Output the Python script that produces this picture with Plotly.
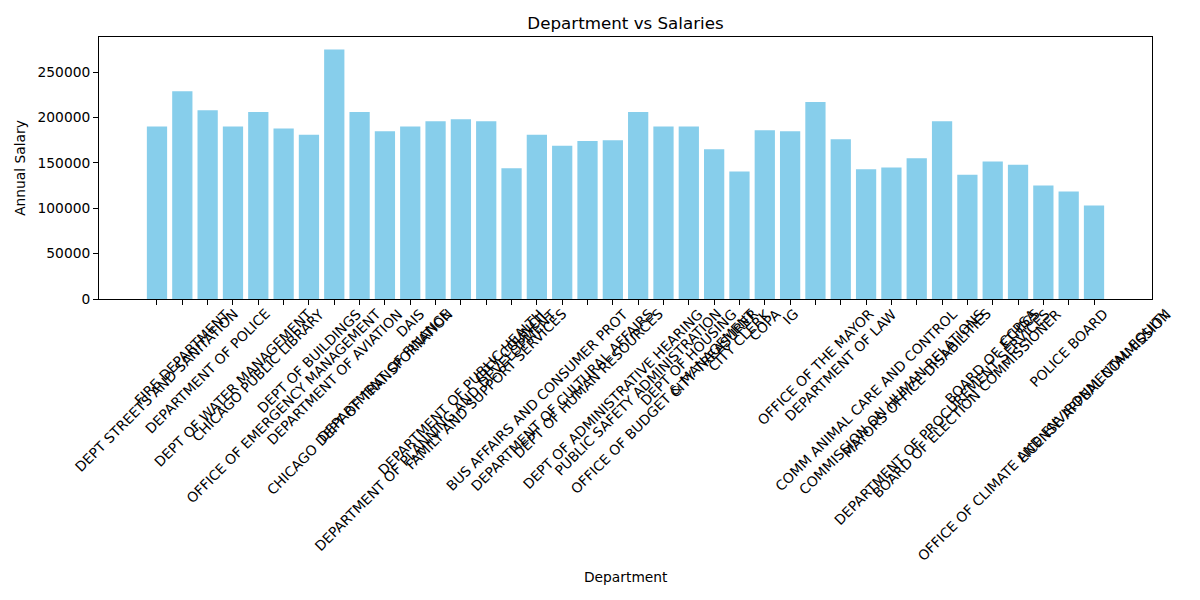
import plotly.graph_objects as go

FONT = "DejaVu Sans"
BAR_COLOR = "skyblue"

# department names in the order they appear on the x axis
departments = [
    "DEPT STREETS AND SANITATION", "FIRE DEPARTMENT", "DEPARTMENT OF POLICE",
    "DEPT OF WATER MANAGEMENT", "CHICAGO PUBLIC LIBRARY", "OFFICE OF EMERGENCY MANAGEMENT",
    "DEPT OF BUILDINGS", "DEPARTMENT OF AVIATION", "CHICAGO DEPT OF TRANSPORTATION",
    "DEPARTMENT OF FINANCE", "DAIS", "DEPARTMENT OF PLANNING AND DEVELOPMENT",
    "DEPARTMENT OF PUBLIC HEALTH", "FAMILY AND SUPPORT SERVICES", "CITY COUNCIL",
    "BUS AFFAIRS AND CONSUMER PROT", "DEPARTMENT OF CULTURAL AFFAIRS", "DEPT OF HUMAN RESOURCES",
    "DEPT OF ADMINISTRATIVE HEARING", "PUBLIC SAFETY ADMINISTRATION", "OFFICE OF BUDGET & MANAGEMENT",
    "DEPT OF HOUSING", "CITY TREASURER", "CITY CLERK", "COPA", "IG",
    "OFFICE OF THE MAYOR", "DEPARTMENT OF LAW", "COMM ANIMAL CARE AND CONTROL",
    "COMMISSION ON HUMAN RELATIONS", "MAYORS OFFICE DISABILITIES", "DEPARTMENT OF PROCUREMENT SERVICES",
    "BOARD OF ELECTION COMMISSIONER", "BOARD OF ETHICS", "CCPSA",
    "OFFICE OF CLIMATE AND ENVIRONMENTAL EQUITY", "POLICE BOARD", "LICENSE APPEAL COMMISSION",
]

# annual salary per department
salaries = [
    190000, 229000, 208000, 190000, 206000, 188000, 181000, 275000, 206000, 185000,
    190000, 196000, 198000, 196000, 144000, 181000, 169000, 174000, 175000, 206000,
    190000, 190000, 165000, 140500, 186000, 185000, 217000, 176000, 143000, 145000,
    155000, 196000, 137000, 151500, 148000, 125000, 118500, 103000,
]

ytick_vals = [0, 50000, 100000, 150000, 200000, 250000]
ytick_text = ["0", "50000", "100000", "150000", "200000", "250000"]

# page body has an 8px margin, so the figure is a bit smaller than the window
W, H = 1192, 592


def buildFigure():
    fig = go.Figure()
    fig.add_trace(go.Bar(x=departments, y=salaries, marker_color=BAR_COLOR,
                         marker_line_width=0))

    # matplotlib style rotated labels: rotated box centred under the tick
    for d in departments:
        fig.add_annotation(x=d, xref="x", y=0, yref="paper", text=d, textangle=-45,
                           xanchor="center", yanchor="top", yshift=-4, showarrow=False,
                           font=dict(family=FONT, size=13.8, color="black"))

    fig.add_annotation(x=0.5, xref="paper", y=(299 - 577) / 262, yref="paper",
                       text="Department", showarrow=False, yanchor="middle",
                       font=dict(family=FONT, size=13.8, color="black"))

    ymax = max(salaries) * 1.05
    fig.update_layout(
        width=W, height=H,
        margin=dict(l=89, r=48, t=29, b=301),
        plot_bgcolor="white", paper_bgcolor="white",
        font=dict(family=FONT, size=13.8, color="black"),
        bargap=0.2, showlegend=False,
        title=dict(text="Department vs Salaries", x=0.5, xref="paper",
                   y=1 - 15 / H, yanchor="middle",
                   font=dict(family=FONT, size=16.7, color="black")),
    )
    fig.update_xaxes(range=[-2.29, len(departments) + 1.29], showticklabels=False,
                     ticks="outside", ticklen=5, tickcolor="black",
                     showline=True, mirror=True, linecolor="black", linewidth=1,
                     showgrid=False, zeroline=False)
    fig.update_yaxes(range=[0, ymax], tickvals=ytick_vals, ticktext=ytick_text,
                     ticks="outside", ticklen=5, tickcolor="black",
                     showline=True, mirror=True, linecolor="black", linewidth=1,
                     showgrid=False, zeroline=False,
                     title=dict(text="Annual Salary", standoff=8,
                                font=dict(family=FONT, size=13.8, color="black")))
    return fig


if __name__ == '__main__':
    fig = buildFigure()
    fig.write_html("out.html")
